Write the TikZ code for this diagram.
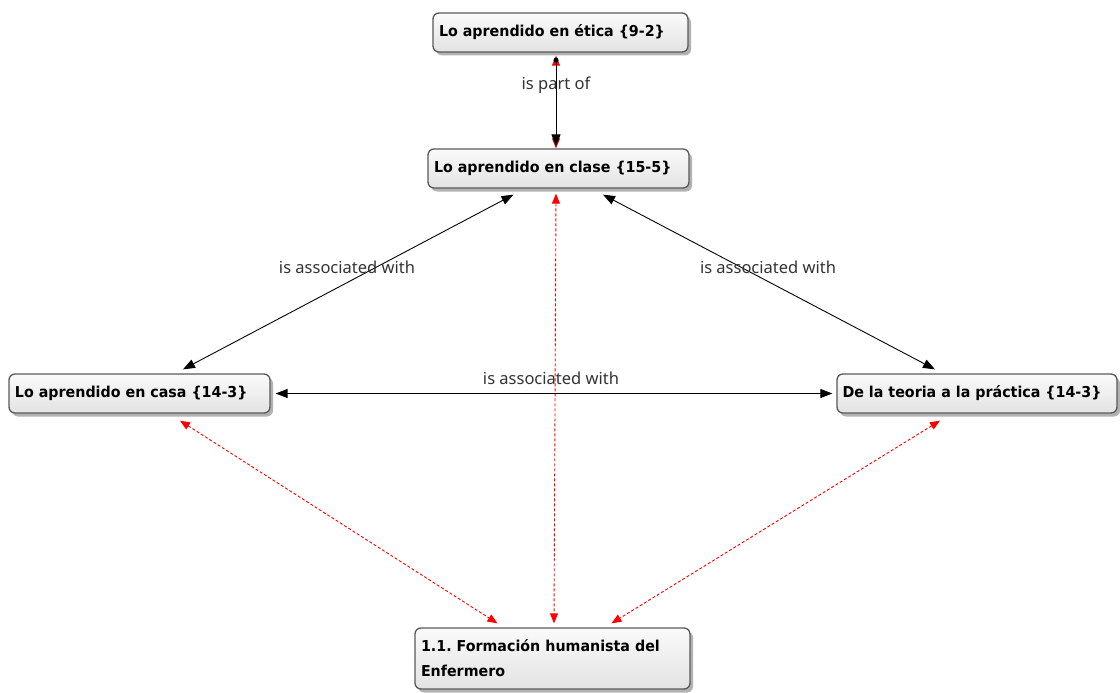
\documentclass[tikz,border=0pt]{standalone}
\usepackage{fontspec}
\setmainfont{DejaVu Sans}[FakeStretch=0.95]
\newfontfamily\labelfont{Noto Sans}
\usetikzlibrary{arrows.meta,shadows,calc}
\begin{document}
\frenchspacing
\begin{tikzpicture}[x=1pt,y=-1pt,
  concept/.style={draw=black!65, line width=1.3pt, rounded corners=6pt,
    top color=black!2, bottom color=black!11,
    drop shadow={shadow xshift=3pt,shadow yshift=-3.5pt,fill=black!60},
    font=\bfseries\fontsize{15}{25}\selectfont, align=left,
    inner xsep=6pt, inner ysep=0pt, minimum height=39pt},
  linklabel/.style={font=\labelfont\fontsize{16.5}{18}\selectfont, text=black!80, inner sep=0pt},
  link/.style={black, line width=0.9pt, >={Triangle[length=12pt,width=9pt]}},
  rel/.style={red, line width=0.9pt, dash pattern=on 3pt off 2pt,
    >={Triangle[length=10pt,width=8pt]}},
]
\useasboundingbox (0,0) rectangle (1120,693);

% concepts
\node[concept, text width=243pt] (etica)  at (560.5,32.5)  {Lo aprendido en ética \{9-2\}};
\node[concept, text width=249pt] (clase)  at (558.5,168.5) {Lo aprendido en clase \{15-5\}};
\node[concept, text width=249pt] (casa)   at (139.5,393.5) {Lo aprendido en casa \{14-3\}};
\node[concept, text width=269pt, inner xsep=5.5pt] (teoria) at (977,393.5) {De la teoria a la práctica \{14-3\}};
\node[concept, text width=263pt, minimum height=61pt] (form) at (552.5,658.5)
  {1.1. Formación humanista del\\Enfermero};

% dashed red relations (drawn first, underneath)
\draw[rel, <->] ($(clase.north)+(-2.5,0)$) -- ($(etica.south)+(-4.5,3)$);
\draw[rel, <->] ($(clase.south)+(-2.5,5)$) -- ($(form.north)+(1.5,-4)$);
\draw[rel, <->] ($(casa.south)+(40.5,7)$) -- ($(form.north)+(-55,-4)$);
\draw[rel, <->] ($(teoria.south)+(-37,7)$) -- ($(form.north)+(59,-4)$);

% black links
\draw[link, {Circle[length=5pt]}->]
  ($(etica.south)+(-4.5,5)$) -- ($(clase.north)+(-2.5,-2)$);
\draw[link, <->]
  ($(clase.south)+(-45,6)$) -- ($(casa.north)+(43.5,-4)$);
\draw[link, <->]
  ($(clase.south)+(44.5,6)$) -- ($(teoria.north)+(-42,-4)$);
\draw[link, <->] ($(casa.east)+(5,0)$) -- ($(teoria.west)+(-4,0)$);

% link phrases
\node[linklabel] (partlabel)  at (556,85)  {is part of};
\node[linklabel] (leftlabel)  at (347,267) {is associated with};
\node[linklabel] (rightlabel) at (768,267) {is associated with};
\node[linklabel] (midlabel)   at (551,378) {is associated with};
\end{tikzpicture}
\end{document}
